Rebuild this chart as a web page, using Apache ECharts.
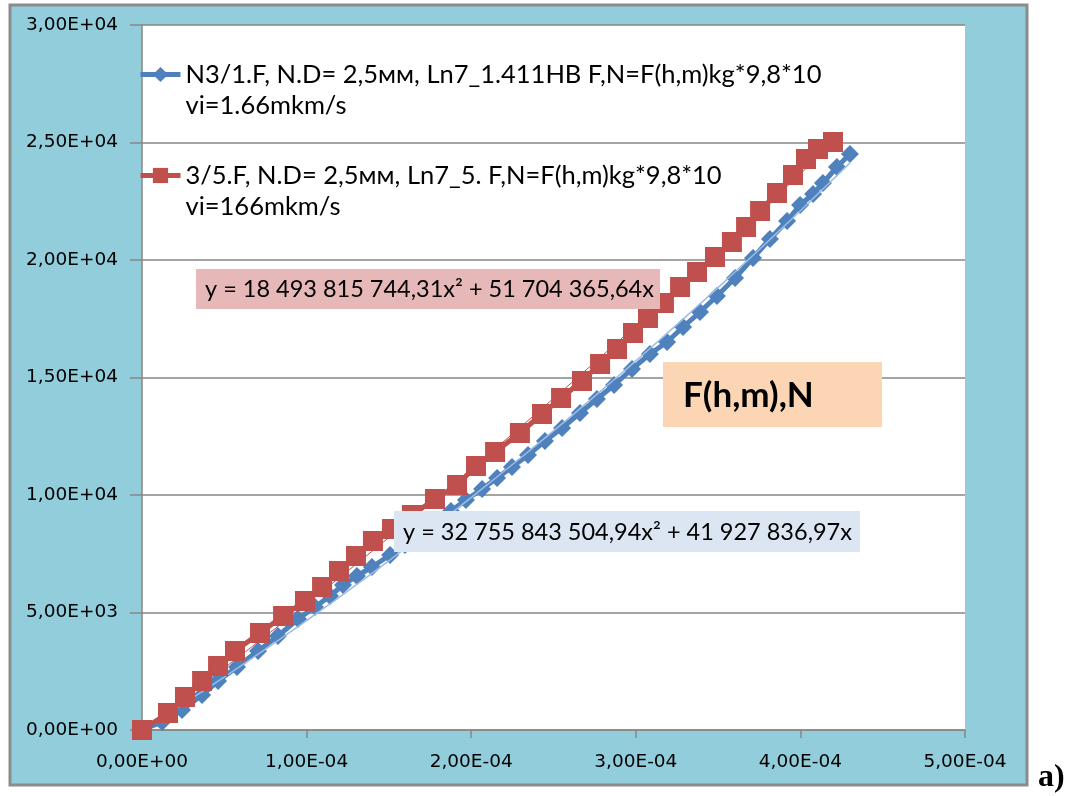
<!DOCTYPE html>
<html>
<head>
<meta charset="utf-8">
<script src="https://cdn.jsdelivr.net/npm/echarts@6/dist/echarts.min.js"></script>
<style>
  html, body { margin: 0; padding: 0; background: #fff; }
  #chart { width: 1078px; height: 796px; }
</style>
</head>
<body>
<div id="chart"></div>
<script>
// data (x in m, y in N)
const blueName = "N3/1.F, N.D= 2,5мм, Ln7_1.411HB F,N=F(h,m)kg*9,8*10"
const blueSub = "vi=1.66mkm/s"
const redName = "3/5.F, N.D= 2,5мм, Ln7_5. F,N=F(h,m)kg*9,8*10"
const redSub = "vi=166mkm/s"

const blueX = [0, 1.22e-5, 2.43e-5, 3.65e-5, 4.62e-5, 5.77e-5, 7.05e-5, 8.26e-5, 9.48e-5, 1.051e-4,
  1.142e-4, 1.221e-4, 1.306e-4, 1.397e-4, 1.507e-4, 1.598e-4, 1.689e-4, 1.786e-4, 1.877e-4, 1.968e-4,
  2.066e-4, 2.157e-4, 2.248e-4, 2.345e-4, 2.448e-4, 2.552e-4, 2.661e-4, 2.764e-4, 2.868e-4, 2.977e-4,
  3.086e-4, 3.19e-4, 3.287e-4, 3.39e-4, 3.493e-4, 3.603e-4, 3.712e-4, 3.815e-4, 3.919e-4, 3.998e-4,
  4.077e-4, 4.137e-4, 4.222e-4, 4.301e-4]
const blueY = [0, 340, 851, 1489, 2085, 2681, 3362, 4000, 4723, 5234,
  5702, 6170, 6553, 6936, 7447, 7872, 8340, 8851, 9319, 9787,
  10255, 10723, 11191, 11702, 12298, 12851, 13489, 14085, 14681, 15362,
  16000, 16511, 17149, 17787, 18468, 19234, 20085, 20894, 21660, 22340,
  22809, 23277, 23957, 24511]

const redX = [0, 1.58e-5, 2.61e-5, 3.65e-5, 4.62e-5, 5.65e-5, 7.17e-5, 8.57e-5, 9.9e-5, 1.094e-4,
  1.197e-4, 1.3e-4, 1.403e-4, 1.519e-4, 1.64e-4, 1.78e-4, 1.914e-4, 2.029e-4, 2.145e-4, 2.296e-4,
  2.43e-4, 2.546e-4, 2.673e-4, 2.783e-4, 2.886e-4, 2.983e-4, 3.074e-4, 3.171e-4, 3.269e-4, 3.372e-4,
  3.481e-4, 3.584e-4, 3.67e-4, 3.755e-4, 3.858e-4, 3.955e-4, 4.034e-4, 4.107e-4, 4.198e-4]
const redY = [0, 723, 1404, 2085, 2723, 3362, 4128, 4851, 5489, 6085,
  6766, 7404, 8043, 8553, 9149, 9830, 10426, 11234, 11830, 12638,
  13447, 14128, 14851, 15574, 16213, 16894, 17532, 18170, 18851, 19489,
  20128, 20766, 21404, 22085, 22851, 23617, 24298, 24723, 25021]

const blueEq = "y = 32 755 843 504,94x² + 41 927 836,97x"
const redEq = "y = 18 493 815 744,31x² + 51 704 365,64x"
const boxTitle = "F(h,m),N"

const font = 'Lato, "Noto Sans", sans-serif'

function pairs(xs, ys) {
  return xs.map((x, i) => [x, ys[i]])
}

// least squares y = a*x^2 + b*x (through origin), like the excel trendline
function trend(xs, ys) {
  let s2 = 0, s3 = 0, s4 = 0, sxy = 0, sx2y = 0
  xs.forEach((x, i) => {
    s2 += x * x; s3 += x * x * x; s4 += x * x * x * x
    sxy += x * ys[i]; sx2y += x * x * ys[i]
  })
  let det = s4 * s2 - s3 * s3
  let a = (sx2y * s2 - s3 * sxy) / det
  let b = (s4 * sxy - s3 * sx2y) / det
  let xmax = xs[xs.length - 1]
  let pts = []
  for (let i = 0; i <= 60; i++) {
    let x = xmax * i / 60
    pts.push([x, a * x * x + b * x])
  }
  return pts
}

function sci(v) {
  if (v === 0) return "0,00E+00"
  let [m, e] = v.toExponential(2).split("e")
  let sign = e[0]
  let n = e.slice(1).padStart(2, "0")
  return m.replace(".", ",") + "E" + sign + n
}

let myChart = echarts.init(document.getElementById("chart"))
myChart.setOption({
  animation: false,
  backgroundColor: "#fff",
  grid: {
    left: 142,
    right: 113,
    top: 25,
    bottom: 66,
    show: true,
    backgroundColor: "#fff",
    borderWidth: 0
  },
  legend: {
    data: [blueName, redName],
    orient: "vertical",
    left: 138,
    top: 28,
    padding: 0,
    itemWidth: 40,
    itemHeight: 19,
    itemGap: 8,
    lineStyle: { width: 5 },
    formatter: (n) => "\n" + n + "\n" + (n === blueName ? blueSub : redSub),
    textStyle: {
      fontFamily: font,
      fontSize: 25.5,
      lineHeight: 31,
      color: "#000"
    }
  },
  xAxis: {
    type: "value",
    min: 0,
    max: 5e-4,
    interval: 1e-4,
    splitLine: { show: false },
    axisLine: { lineStyle: { color: "#868686", width: 1.5 } },
    axisTick: { show: true, length: 8, lineStyle: { color: "#868686", width: 1.5 } },
    axisLabel: {
      formatter: sci,
      color: "#000",
      fontFamily: "DejaVu Sans",
      fontSize: 18.5,
      margin: 23
    }
  },
  yAxis: {
    type: "value",
    min: 0,
    max: 30000,
    interval: 5000,
    splitLine: { lineStyle: { color: "#868686", width: 1.5 } },
    axisLine: { show: true, lineStyle: { color: "#868686", width: 1.5 } },
    axisTick: { show: true, length: 12, lineStyle: { color: "#868686", width: 1.5 } },
    axisLabel: {
      formatter: sci,
      color: "#000",
      fontFamily: "DejaVu Sans",
      fontSize: 18.5,
      margin: 24
    }
  },
  series: [
    {
      name: blueName,
      type: "line",
      data: pairs(blueX, blueY),
      symbol: "diamond",
      symbolSize: 18,
      color: "#4F81BD",
      lineStyle: { width: 5, color: "#4F81BD" },
      itemStyle: { color: "#4F81BD" },
      z: 2
    },
    {
      name: "blueTrend",
      type: "line",
      data: trend(blueX, blueY),
      showSymbol: false,
      symbol: "none",
      lineStyle: { width: 1.5, color: "#9CBCE3" },
      z: 3,
      silent: true
    },
    {
      name: redName,
      type: "line",
      data: pairs(redX, redY),
      symbol: "rect",
      symbolSize: 20,
      color: "#C0504D",
      lineStyle: { width: 5, color: "#C0504D" },
      itemStyle: { color: "#C0504D" },
      z: 4
    },
    {
      name: "redTrend",
      type: "line",
      data: trend(redX, redY),
      showSymbol: false,
      symbol: "none",
      lineStyle: { width: 1, color: "#C0504D" },
      z: 5,
      silent: true
    }
  ],
  graphic: [
    {
      type: "rect",
      z: -10,
      shape: { x: 10, y: 5, width: 1017, height: 780 },
      style: { fill: "#92CDDC", stroke: "#8C8C8C", lineWidth: 3 }
    },
    {
      type: "rect",
      z: 100,
      shape: { x: 196, y: 269, width: 464, height: 40 },
      style: { fill: "#E6B9B8" }
    },
    {
      type: "text",
      z: 101,
      x: 205,
      y: 289,
      style: { text: redEq, fill: "#000", font: "23.5px " + font, verticalAlign: "middle" }
    },
    {
      type: "rect",
      z: 100,
      shape: { x: 394, y: 511, width: 466, height: 41 },
      style: { fill: "#DCE6F2" }
    },
    {
      type: "text",
      z: 101,
      x: 403,
      y: 532,
      style: { text: blueEq, fill: "#000", font: "23.5px " + font, verticalAlign: "middle" }
    },
    {
      type: "rect",
      z: 100,
      shape: { x: 663, y: 362, width: 219, height: 65 },
      style: { fill: "#FCD5B5" }
    },
    {
      type: "text",
      z: 101,
      x: 683,
      y: 396,
      style: { text: boxTitle, fill: "#000", font: "bold 35px " + font, verticalAlign: "middle" }
    },
    {
      type: "text",
      z: 101,
      x: 1038,
      y: 778,
      style: { text: "a)", fill: "#000", font: 'bold 32px "Liberation Serif"', verticalAlign: "middle" }
    }
  ]
})
</script>
</body>
</html>
